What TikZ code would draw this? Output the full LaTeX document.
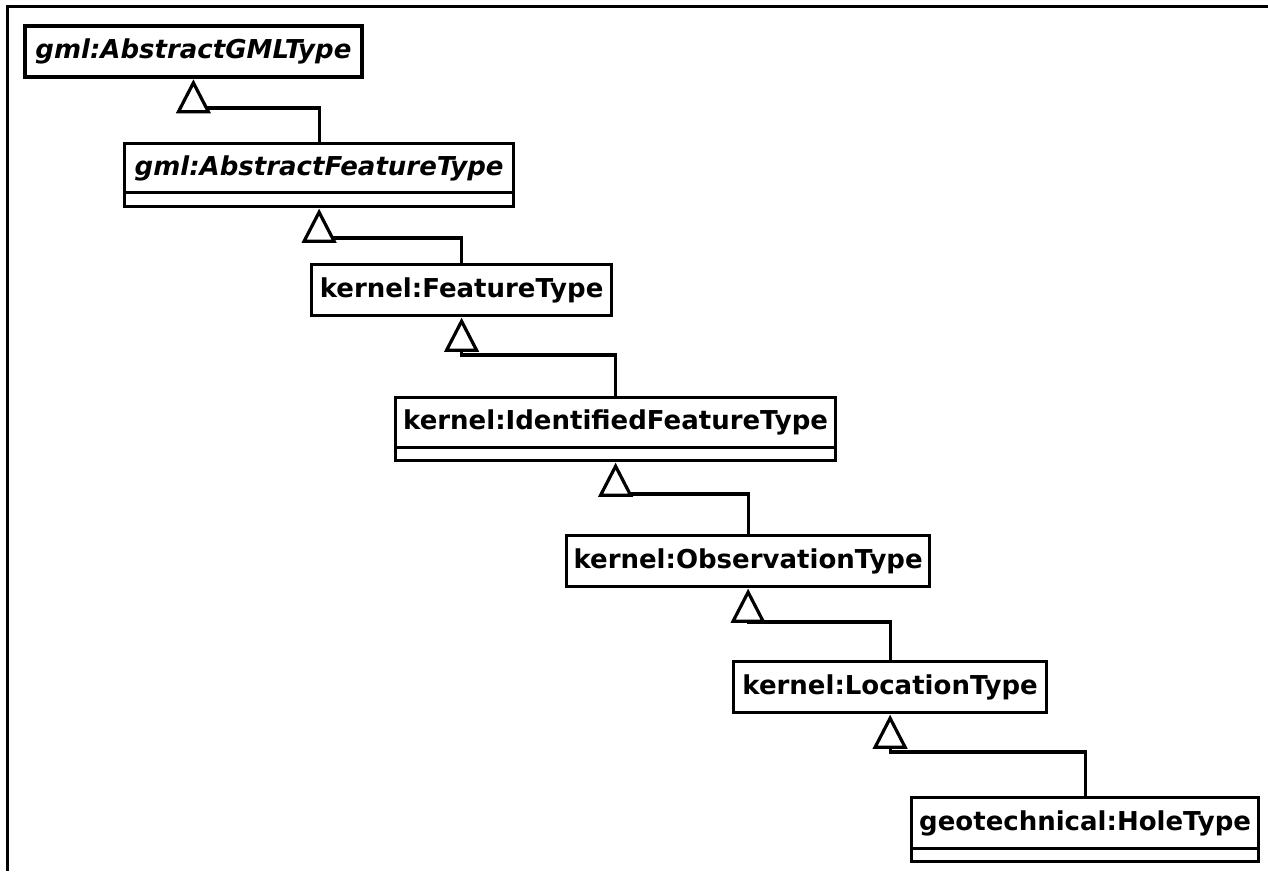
\documentclass[tikz,border=0pt]{standalone}
\usepackage{fontspec}
\setmainfont{DejaVu Sans}
\newcommand{\umlfont}{\fontsize{26}{31}\selectfont\bfseries}
\tikzset{
  cls/.style={draw, line width=3.2pt, rectangle, inner sep=0pt, anchor=north west, font=\umlfont},
  abstractcls/.style={cls, font=\umlfont\itshape},
  attrbox/.style={draw, line width=3.2pt, rectangle, inner sep=0pt, anchor=north west},
  link/.style={line width=3.2pt},
  gentri/.style={line width=3.2pt, line join=miter, fill=white},
}
% open generalisation triangle hanging below a node anchor
\newcommand{\gentriangle}[1]{%
  \draw[gentri] ([yshift=-4pt]#1) -- ++(-15,29) -- ++(30,0) -- cycle;}
\begin{document}
\begin{tikzpicture}[x=1pt, y=-1pt]
\useasboundingbox (0,0) rectangle (1268,871);
% frame
\coordinate (fa) at (1268,6);
\coordinate (fb) at (7,6);
\coordinate (fc) at (7,871);
\draw[line width=3pt] (fa) -- (fb) -- (fc);

% classes
\node[abstractcls, line width=3.8pt, minimum width=337pt, minimum height=51pt] (gmlType) at (23,24) {gml:AbstractGMLType};

\node[abstractcls, minimum width=389pt, minimum height=49pt] (featAbs) at (123,142) {gml:AbstractFeatureType};
\node[attrbox, minimum width=389pt, minimum height=14pt] (featAbsAttr) at (123,191) {};

\node[cls, minimum width=300pt, minimum height=51pt] (feat) at (310,263) {kernel:FeatureType};

\node[cls, minimum width=440pt, minimum height=50pt] (ident) at (394,396) {kernel:IdentifiedFeatureType};
\node[attrbox, minimum width=440pt, minimum height=13pt] (identAttr) at (394,446) {};

\node[cls, minimum width=363pt, minimum height=51pt] (obs) at (565,534) {kernel:ObservationType};

\node[cls, minimum width=313pt, minimum height=51pt] (loc) at (732,660) {kernel:LocationType};

\node[cls, minimum width=347pt, minimum height=51pt] (hole) at (910,796) {geotechnical:HoleType};
\node[attrbox, minimum width=347pt, minimum height=13pt] (holeAttr) at (910,847) {};

% generalisations: child top -> elbow -> triangle base under the parent
\draw[link] (featAbs.north) -- (featAbs.north |- 0,108) -| ([yshift=-33pt]gmlType.south);
\draw[link] (feat.north) -- (feat.north |- 0,238) -| ([yshift=-33pt]featAbsAttr.south);
\draw[link] (ident.north) -- (ident.north |- 0,355) -| ([yshift=-33pt]feat.south);
\draw[link] (obs.north) -- (obs.north |- 0,494) -| ([yshift=-33pt]identAttr.south);
\draw[link] (loc.north) -- (loc.north |- 0,622) -| ([yshift=-33pt]obs.south);
\draw[link] (hole.north) -- (hole.north |- 0,752) -| ([yshift=-33pt]loc.south);

\gentriangle{gmlType.south}
\gentriangle{featAbsAttr.south}
\gentriangle{feat.south}
\gentriangle{identAttr.south}
\gentriangle{obs.south}
\gentriangle{loc.south}
\end{tikzpicture}
\end{document}
